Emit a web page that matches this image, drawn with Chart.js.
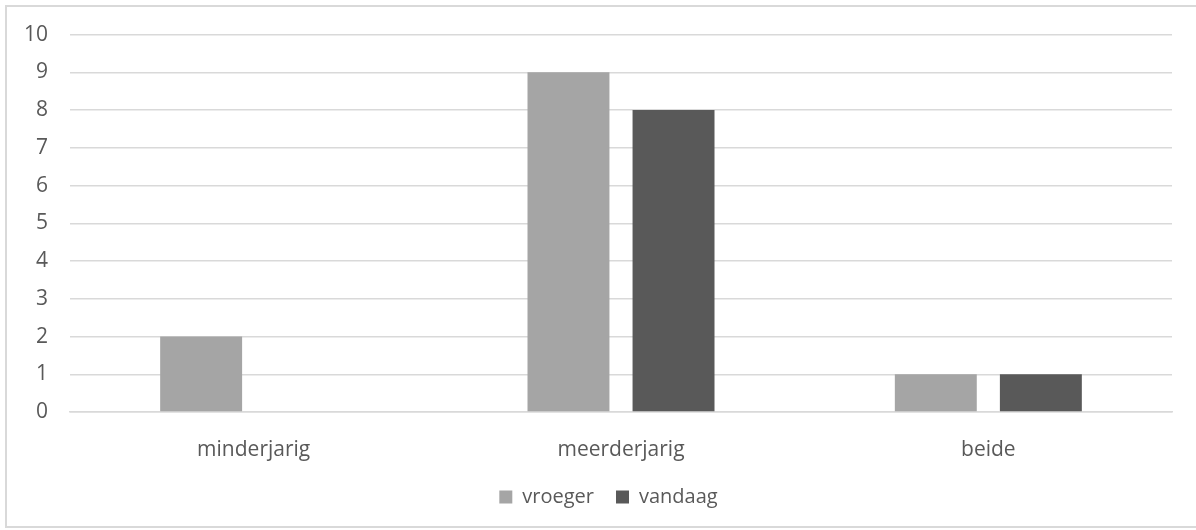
<!DOCTYPE html>
<html>
<head>
<meta charset="utf-8">
<script src="https://cdn.jsdelivr.net/npm/chart.js@4.4.0/dist/chart.umd.min.js"></script>
<style>
  html, body { margin: 0; padding: 0; background: #fff; }
  #wrap { width: 1196px; height: 530px; }
</style>
</head>
<body>
<div id="wrap"><canvas id="chart" width="1196" height="530"></canvas></div>
<script>
const categories = ['minderjarig', 'meerderjarig', 'beide'];
const vroeger = [2, 9, 1];
const vandaag = [0, 8, 1];
const yTicks = [0, 1, 2, 3, 4, 5, 6, 7, 8, 9, 10];

const textColor = '#595959';
const gridColor = '#d9d9d9';
const axisFont = { family: 'Open Sans', size: 21 };
const legendFont = { family: 'Open Sans', size: 20 };

// light frame round the whole chart, like the office chart border
// and the legend centred on the whole frame instead of the plot
const framePlugin = {
  id: 'frame',
  afterLayout(chart) {
    if (chart.legend) chart.legend.left = 45;
  },
  beforeDraw(chart) {
    const ctx = chart.ctx;
    ctx.save();
    ctx.strokeStyle = gridColor;
    ctx.lineWidth = 2;
    ctx.strokeRect(6, 6, chart.width + 10, chart.height - 9);
    ctx.restore();
  }
};

const ctx = document.getElementById('chart').getContext('2d');
new Chart(ctx, {
  type: 'bar',
  data: {
    labels: categories,
    datasets: [
      {
        label: 'vroeger',
        data: vroeger,
        backgroundColor: '#a5a5a5',
        categoryPercentage: 0.572,
        barPercentage: 0.78
      },
      {
        label: 'vandaag',
        data: vandaag,
        backgroundColor: '#595959',
        categoryPercentage: 0.572,
        barPercentage: 0.78
      }
    ]
  },
  plugins: [framePlugin],
  options: {
    responsive: false,
    animation: false,
    layout: {
      padding: { top: 32, right: 24, left: 0, bottom: 13 }
    },
    plugins: {
      title: { display: false },
      tooltip: { enabled: false },
      legend: {
        position: 'bottom',
        labels: {
          color: textColor,
          boxWidth: 13,
          boxHeight: 13,
          padding: 22,
          font: legendFont
        }
      }
    },
    scales: {
      x: {
        grid: { display: false, drawTicks: false },
        border: { color: gridColor, width: 1.5 },
        ticks: {
          color: textColor,
          padding: 25,
          font: axisFont
        },
        afterFit: (scale) => { scale.height = 53; }
      },
      y: {
        min: 0,
        max: 10,
        afterBuildTicks: (scale) => {
          scale.ticks = yTicks.map(v => ({ value: v }));
        },
        grid: { color: gridColor, lineWidth: 1.5, drawTicks: false },
        border: { display: false },
        ticks: {
          color: textColor,
          padding: 22,
          font: axisFont
        },
        afterFit: (scale) => { scale.width = 70; }
      }
    }
  }
});
</script>
</body>
</html>
